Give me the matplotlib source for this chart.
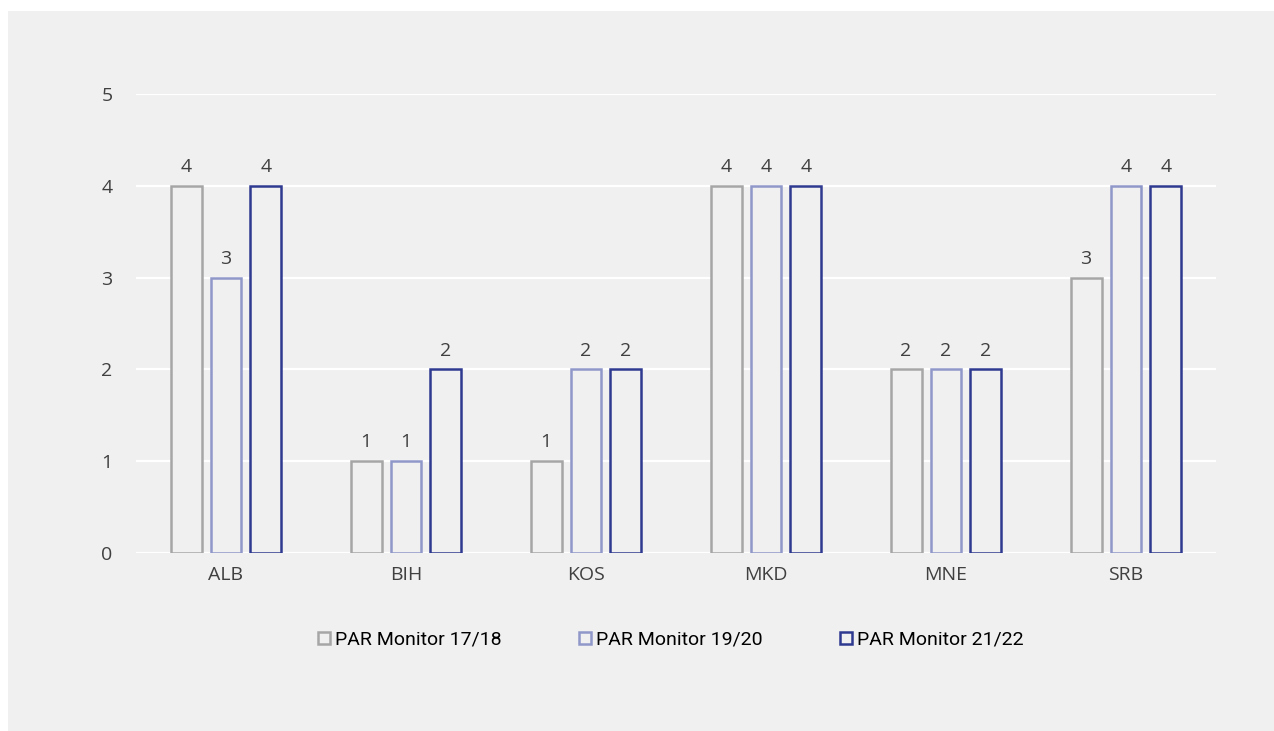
import numpy as np
import matplotlib.pyplot as plt
from matplotlib.patches import Rectangle

paises = ['ALB', 'BIH', 'KOS', 'MKD', 'MNE', 'SRB']
series = ['PAR Monitor 17/18', 'PAR Monitor 19/20', 'PAR Monitor 21/22']
pm_17_18 = [4, 1, 1, 4, 2, 3]
pm_19_20 = [3, 1, 2, 4, 2, 4]
pm_21_22 = [4, 2, 2, 4, 2, 4]

colores = ['#A6A6A6', '#9098C9', '#2E3990']
fondo = '#F0F0F0'
texto = '#404040'

fig = plt.figure(figsize=(12.74, 7.31), dpi=100)
fig.patch.set_facecolor('white')
# panel gris de fondo
fig.patches.append(Rectangle((8 / 1274, 0), 1 - 8 / 1274, 1 - 11 / 731,
                             transform=fig.transFigure, facecolor=fondo,
                             edgecolor='none', zorder=-5))

ax = fig.add_axes([136 / 1274, 178 / 731, 1080 / 1274, 459 / 731])
ax.set_facecolor(fondo)

x = np.arange(len(paises))
ancho = 0.172
desp = 0.222
for i, (vals, nombre) in enumerate(zip([pm_17_18, pm_19_20, pm_21_22], series)):
    barras = ax.bar(x + (i - 1) * desp, vals, ancho, facecolor=fondo,
                    edgecolor=colores[i], linewidth=1.8, label=nombre, zorder=3)
    ax.bar_label(barras, padding=7, fontsize=14, color=texto,
                 family=['Open Sans', 'DejaVu Sans'])

ax.set_xlim(-0.5, len(paises) - 0.5)
ax.set_ylim(0, 5)
ax.set_yticks(range(6))
ax.set_xticks(x)
ax.set_xticklabels(paises)
for s in ax.spines.values():
    s.set_visible(False)
ax.yaxis.grid(True, color='white', linewidth=1.6, zorder=1)
ax.set_axisbelow(True)
ax.tick_params(length=0, labelsize=14, labelcolor=texto)
ax.tick_params(axis='y', pad=17)
ax.tick_params(axis='x', pad=9)
for lab in ax.get_xticklabels() + ax.get_yticklabels():
    lab.set_family(['Open Sans', 'DejaVu Sans'])

fig.legend(loc='center', bbox_to_anchor=(671 / 1274, 91 / 731), ncol=3,
           frameon=False, handlelength=0.6, handleheight=0.6,
           handletextpad=0.25, columnspacing=4.0,
           prop={'family': ['Roboto', 'DejaVu Sans'], 'size': 14})

plt.savefig('out.png', dpi=100)
